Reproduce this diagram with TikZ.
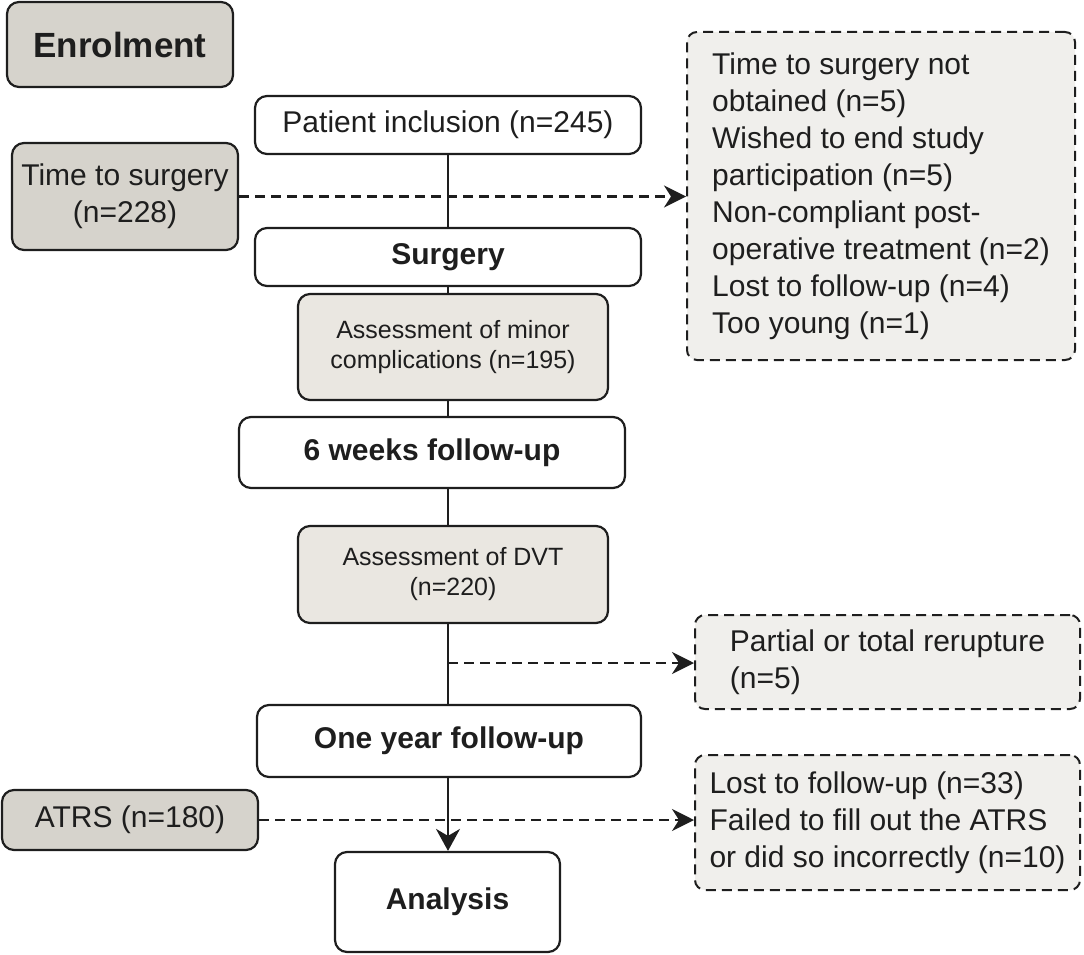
\documentclass[tikz,border=0pt]{standalone}
\usepackage{fontspec}
\setmainfont{Liberation Sans}
\usetikzlibrary{arrows.meta}
\definecolor{darkfill}{RGB}{214,211,204}
\definecolor{lightfill}{RGB}{234,231,225}
\definecolor{dashfill}{RGB}{240,239,236}
\definecolor{ink}{RGB}{30,30,30}
\begin{document}
\begin{tikzpicture}[x=1pt,y=-1pt,
  box/.style={draw=ink, line width=2.2pt, rounded corners=12pt, align=center, inner sep=0pt,
    font=\fontsize{30}{37}\selectfont, text=ink},
  boldbox/.style={box, fill=white, font=\fontsize{30}{37}\selectfont\bfseries},
  plainbox/.style={box, fill=white},
  graybox/.style={box, fill=darkfill},
  assessbox/.style={box, fill=lightfill, font=\fontsize{25}{30}\selectfont},
  exbox/.style={draw=ink, line width=2pt, dash pattern=on 10pt off 6pt, rounded corners=10pt,
    fill=dashfill, align=left, inner sep=0pt, font=\fontsize{30}{37}\selectfont, text=ink},
  spine/.style={draw=ink, line width=2.2pt},
  dasharrow/.style={draw=ink, line width=2.2pt, dash pattern=on 10pt off 6pt,
    -{Stealth[length=22pt,width=22pt,inset=7pt]}},
  solidarrow/.style={draw=ink, line width=2.2pt, -{Stealth[length=22pt,width=24pt,inset=7pt]}}
]
\useasboundingbox (0,0) rectangle (1084,955);

% main column
\node[graybox, minimum width=226pt, minimum height=85pt, font=\fontsize{35}{40}\selectfont\bfseries] (enrol) at (120,44.5) {Enrolment};
\node[plainbox, minimum width=386pt, minimum height=58pt] (incl) at (448,125) {Patient inclusion (n=245)};
\node[graybox, minimum width=226pt, minimum height=107pt] (tts) at (125,196.5) {Time to surgery\\(n=228)};
\node[boldbox, minimum width=386pt, minimum height=58pt] (surg) at (448,257) {Surgery};
\node[assessbox, minimum width=310pt, minimum height=106pt] (minor) at (453,347) {Assessment of minor\\complications (n=195)};
\node[boldbox, minimum width=386pt, minimum height=71pt] (six) at (432,452.5) {6 weeks follow-up};
\node[assessbox, minimum width=310pt, minimum height=97pt] (dvt) at (453,574.5) {Assessment of DVT\\(n=220)};
\node[boldbox, minimum width=384pt, minimum height=72pt] (year) at (449,741) {One year follow-up};
\node[graybox, minimum width=256pt, minimum height=60pt] (atrs) at (130,820) {ATRS (n=180)};
\node[boldbox, minimum width=225pt, minimum height=100pt] (anal) at (447.5,902) {Analysis};

% exclusion boxes
\node[exbox, minimum width=388pt, minimum height=328pt] (ex1) at (881,196) {Time to surgery not\\obtained (n=5)\\Wished to end study\\participation (n=5)\\Non-compliant post-\\operative treatment (n=2)\\Lost to follow-up (n=4)\\Too young (n=1)};
\node[exbox, minimum width=385pt, minimum height=94pt] (ex2) at (887.5,662) {Partial or total rerupture\\(n=5)};
\node[exbox, minimum width=385pt, minimum height=135pt] (ex3) at (887.5,822.5) {Lost to follow-up (n=33)\\Failed to fill out the ATRS\\or did so incorrectly (n=10)};

% spine
\coordinate (sx) at (448,0);
\coordinate (branch) at (448,663);
\draw[spine] (sx |- incl.south) -- (sx |- surg.north);
\draw[spine] (sx |- surg.south) -- (sx |- minor.north);
\draw[spine] (sx |- minor.south) -- (sx |- six.north);
\draw[spine] (sx |- six.south) -- (sx |- dvt.north);
\draw[spine] (sx |- dvt.south) -- (sx |- year.north);
\draw[solidarrow] (sx |- year.south) -- (sx |- anal.north);

% dashed arrows
\draw[dasharrow] (tts.east) -- (tts.east -| ex1.west);
\draw[dasharrow] (branch) -- (branch -| ex2.west);
\draw[dasharrow] (atrs.east) -- (atrs.east -| ex3.west);
\end{tikzpicture}
\end{document}
